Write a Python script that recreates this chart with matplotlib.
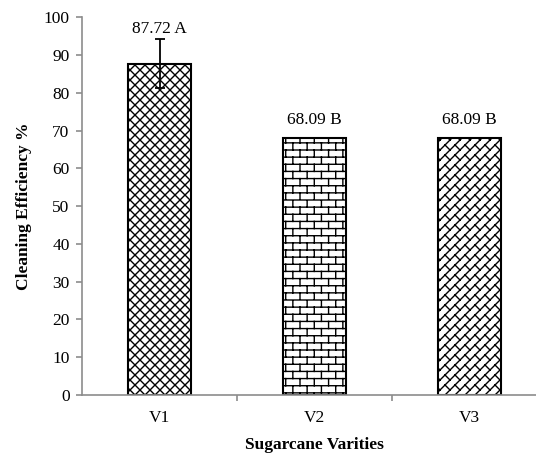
import warnings
import numpy as np
import matplotlib
matplotlib.use('Agg')
import matplotlib.pyplot as plt
import matplotlib.hatch as mhatch
from matplotlib.path import Path

warnings.filterwarnings('ignore')

# Data
varieties = ['V1', 'V2', 'V3']
efficiency = [87.72, 68.09, 68.09]
std_err = [6.5, 0.0, 0.0]
groups = ['A', 'B', 'B']


# Excel-like fill patterns as extra hatch types
def add_hatch(char, make_segments):
    class SegHatch(mhatch.HatchPatternBase):
        def __init__(self, hatch, density):
            self.segs = np.array(make_segments()) if char in hatch else np.empty((0, 2, 2))
            self.num_vertices = 2 * len(self.segs)

        def set_vertices_and_codes(self, vertices, codes):
            vertices[:] = self.segs.reshape(-1, 2)
            codes[0::2] = Path.MOVETO
            codes[1::2] = Path.LINETO
    mhatch._hatch_types.append(SegHatch)


def diamonds(n=10):
    segs = []
    for k in range(-n, n + 1):
        segs.append([(0, k / n), (1, 1 + k / n)])
    for k in range(0, 2 * n + 1):
        segs.append([(0, k / n), (1, k / n - 1)])
    return segs


def bricks(rows=14, cols=7):
    segs = []
    for i in range(rows + 1):
        y = i / rows
        segs.append([(0, y), (1, y)])
    for i in range(rows):
        y = i / rows
        off = 0 if i % 2 == 0 else 0.5 / cols
        for j in range(-1, cols + 1):
            x = j / cols + off
            segs.append([(x, y), (x, y + 1 / rows)])
    return segs


def diag_bricks(n=10, m=5):
    def pt(s, t):
        return ((s - t) / 2, (s + t) / 2)
    segs = []
    for k in range(-n, n + 1):
        t = k / n
        segs.append([pt(0, t), pt(2, t)])
    for k in range(-n, n):
        off = (k % 2) * 0.5 / m
        for j in range(0, 2 * m + 1):
            s = j / m + off
            segs.append([pt(s, k / n), pt(s, (k + 1) / n)])
    return segs


add_hatch('c', diamonds)
add_hatch('b', bricks)
add_hatch('d', diag_bricks)

plt.rcParams['font.family'] = ['Liberation Serif', 'DejaVu Serif']
plt.rcParams['hatch.linewidth'] = 1.0
plt.rcParams['hatch.color'] = 'black'

fig = plt.figure(figsize=(5.36, 4.54), dpi=100)
ax = fig.add_axes([0.153, 0.130, 0.8675, 0.8315])

x = np.arange(len(varieties))
bars = ax.bar(x, efficiency, width=0.41, color='white', edgecolor='black',
              linewidth=1.5, zorder=2)
for bar, h in zip(bars, ['c', 'b', 'd']):
    bar.set_hatch(h)

for i in range(len(varieties)):
    if std_err[i] > 0:
        ax.errorbar(x[i], efficiency[i], yerr=std_err[i], color='black',
                    elinewidth=1.3, capsize=3.6, capthick=1.3, zorder=3)
        ytext = efficiency[i] + std_err[i] + 2.6
    else:
        ytext = efficiency[i] + 4.8
    ax.text(x[i], ytext, f'{efficiency[i]:.2f} {groups[i]}', ha='center',
            va='center', fontsize=12.5)

ax.set_xlim(-0.5, 2.5)
ax.set_ylim(0, 100)
ax.set_yticks(range(0, 101, 10))
ax.set_xticks(x)
ax.set_xticklabels(varieties)
ax.set_xticks([0.5, 1.5, 2.5], minor=True)

for side in ['top', 'right']:
    ax.spines[side].set_visible(False)
for side in ['left', 'bottom']:
    ax.spines[side].set_color('#8c8c8c')
    ax.spines[side].set_linewidth(1.2)

ax.tick_params(axis='y', direction='out', length=4, width=1.2, color='#8c8c8c',
               labelsize=12.5, pad=5)
ax.tick_params(axis='x', which='major', length=0, labelsize=12.5, pad=11)
ax.tick_params(axis='x', which='minor', direction='out', length=4, width=1.2,
               color='#8c8c8c')

ax.set_ylabel('Cleaning Efficiency %', fontsize=12.5, fontweight='bold', labelpad=8)
ax.set_xlabel('Sugarcane Varities', fontsize=12.5, fontweight='bold', labelpad=8)

fig.savefig('out.png', dpi=100)
